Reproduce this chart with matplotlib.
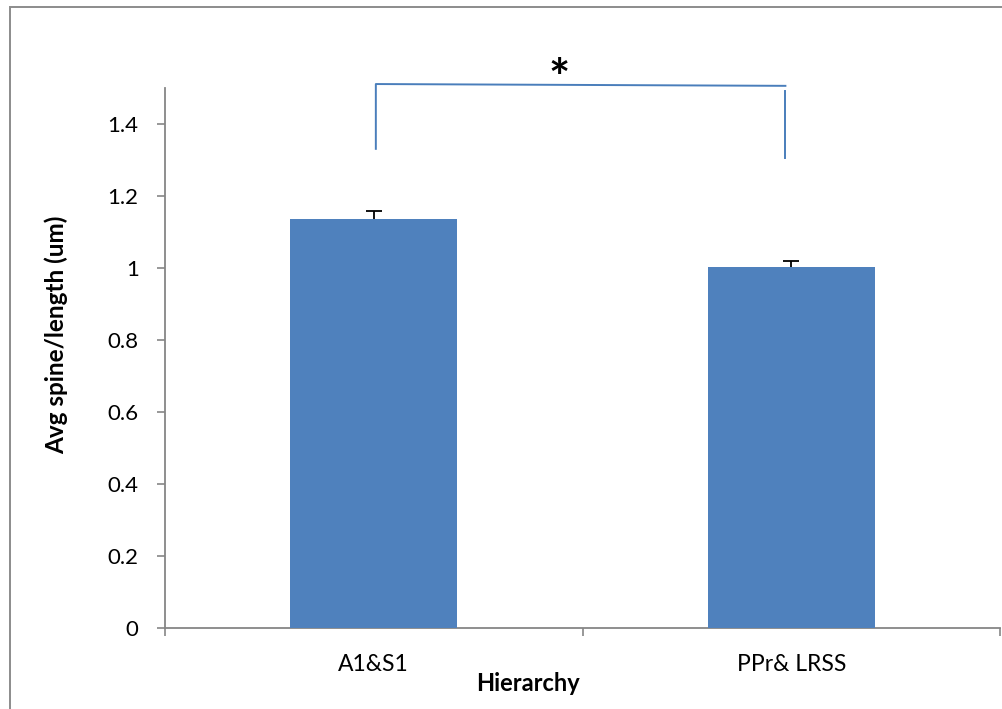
import matplotlib
matplotlib.use("Agg")
import matplotlib.pyplot as plt
from matplotlib.patches import Rectangle

plt.rcParams['font.family'] = ['Lato', 'DejaVu Sans']

categories = ["A1&S1", "PPr& LRSS"]
means = [1.136, 1.003]
errors_up = [0.022, 0.016]
y_ticks = [0, 0.2, 0.4, 0.6, 0.8, 1.0, 1.2, 1.4]
y_tick_labels = ["0", "0.2", "0.4", "0.6", "0.8", "1", "1.2", "1.4"]

bar_color = "#4F81BD"
axis_gray = "#868686"
bracket_color = "#4A7EBB"

W, H = 1002, 709
fig = plt.figure(figsize=(W / 100, H / 100), dpi=100)
fig.patch.set_facecolor("white")

# outer frame of the chart area
fig.add_artist(Rectangle((9.5 / W, -0.1), 1.2, 1 - 7 / H + 0.1, transform=fig.transFigure,
                         fill=False, edgecolor="#8c8c8c", linewidth=1.4))

ax = fig.add_axes([165 / W, 1 - 628 / H, (1000 - 165) / W, (628 - 88) / H])
x = list(range(len(categories)))
ax.bar(x, means, width=0.4, color=bar_color, zorder=3)
# plus-only error bars
eb = ax.errorbar(x, means, yerr=[[0] * len(means), errors_up], fmt="none",
                 ecolor="black", elinewidth=1.3, capsize=6, capthick=1.3, zorder=2)
caplines = eb.lines[1]
if len(caplines) == 2:
    caplines[0].set_visible(False)

ax.set_xlim(-0.5, 1.5)
ax.set_ylim(0, 1.5)
ax.set_yticks(y_ticks)
ax.set_yticklabels(y_tick_labels)
ax.set_xticks([-0.5, 0.5, 1.5])
ax.set_xticklabels([])
ax.set_xticks(x, minor=True)
ax.set_xticklabels(categories, minor=True)
ax.tick_params(axis="x", which="minor", length=0, pad=19, labelsize=16.5)
ax.tick_params(axis="x", which="major", length=6, width=1.2, color=axis_gray, direction="out")
ax.tick_params(axis="y", length=6, width=1.2, color=axis_gray, direction="out", pad=13, labelsize=16)

for side in ["top", "right"]:
    ax.spines[side].set_visible(False)
for side in ["left", "bottom"]:
    ax.spines[side].set_color(axis_gray)
    ax.spines[side].set_linewidth(1.3)

ax.set_ylabel("Avg spine/length (um)", fontsize=17.5, fontweight="bold")
ax.set_xlabel("Hierarchy", fontsize=17, fontweight="bold")
ax.yaxis.set_label_coords(-0.116, 0.543)
ax.xaxis.set_label_coords(0.435, -0.081)

# significance bracket
ax.plot([0.005, 0.005, 0.986], [1.331, 1.511, 1.506], color=bracket_color,
        linewidth=1.4, clip_on=False, zorder=4)
ax.plot([0.986, 0.986], [1.492, 1.306], color=bracket_color,
        linewidth=1.4, clip_on=False, zorder=4)
ax.text(0.445, 1.52, "*", fontsize=36, fontweight="bold", ha="center", va="center",
        clip_on=False)

fig.savefig("out.png", dpi=100)
